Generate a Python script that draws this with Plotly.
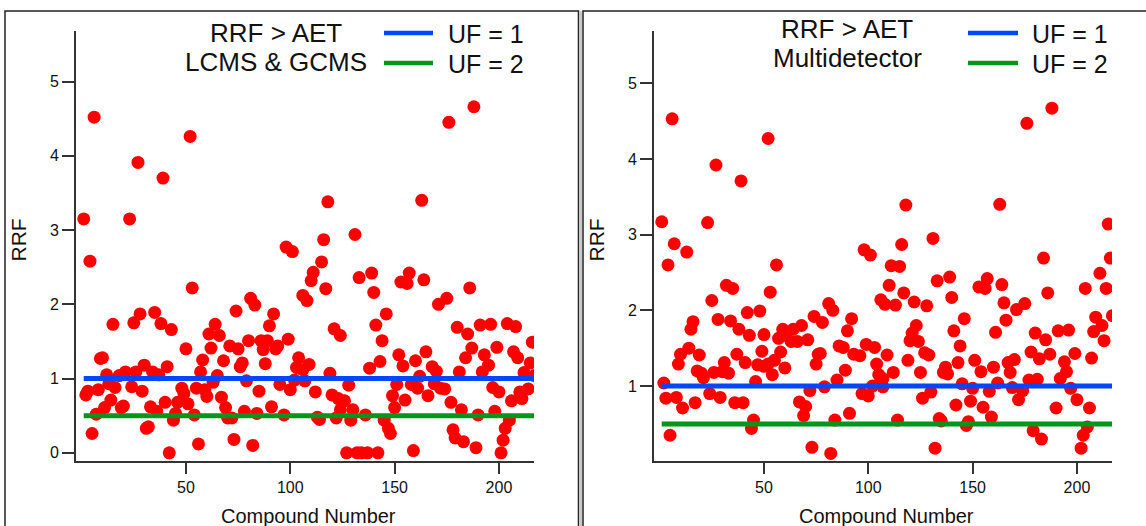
import plotly.graph_objects as go

W, H = 1146, 526

# ---------------- data ----------------
lc_x = [6, 52, 27, 39, 1, 23, 98, 101, 4, 188, 176, 118, 163, 131, 116, 115,
        53, 106, 108, 81, 83, 74, 35, 28, 25, 15, 38, 43, 92, 90, 64, 61, 66, 99, 80, 86, 89, 87, 93, 94,
        71, 75, 62, 50, 104, 68, 88, 58, 77, 76, 57, 103, 106, 9, 10, 12, 18, 21, 26, 30, 34, 37, 41, 65,
        63, 79, 102, 13, 16, 3, 2, 8, 24, 29, 48, 49, 55, 59, 60, 67, 85, 95, 100, 14, 11, 19, 20, 7, 33,
        36, 40, 46, 51, 45, 44, 54, 69, 70, 72, 78, 84, 91, 97, 5, 31, 32, 42, 56, 73, 82,
        111, 110, 117, 133, 139, 140, 153, 156, 157, 164, 186, 171, 175, 146, 141, 121, 124, 144, 180, 185,
        191, 196, 204, 208, 216, 109, 107, 119, 128, 112, 138, 143, 152, 154, 160, 162, 165, 168, 170, 151,
        149, 158, 161, 169, 172, 174, 166, 155, 150, 181, 184, 187, 193, 195, 192, 199, 207, 209, 215, 212,
        217, 197, 200, 206, 210, 211, 214, 177, 182, 190, 198, 205, 203, 202, 201, 120, 123, 126, 124, 130,
        129, 122, 113, 114, 136, 145, 147, 148, 127, 132, 134, 137, 142, 159, 178, 179, 183, 189]
lc_y = [4.52, 4.26, 3.91, 3.70, 3.15, 3.15, 2.77, 2.71, 2.58, 4.66, 4.45, 3.38, 3.40, 2.94, 2.87, 2.57,
        2.22, 2.12, 2.05, 2.08, 1.99, 1.91, 1.89, 1.87, 1.75, 1.73, 1.74, 1.66, 1.87, 1.71, 1.73, 1.60, 1.58, 1.53, 1.51, 1.51, 1.51, 1.39, 1.40, 1.44,
        1.44, 1.40, 1.41, 1.40, 1.28, 1.24, 1.20, 1.25, 1.21, 1.16, 1.09, 1.15, 1.12, 1.27, 1.28, 1.05, 1.04, 1.09, 1.09, 1.18, 1.09, 1.05, 1.16, 1.04,
        0.95, 0.97, 0.98, 0.93, 0.88, 0.83, 0.78, 0.85, 0.89, 0.83, 0.87, 0.80, 0.87, 0.85, 0.76, 0.75, 0.83, 0.92, 0.85, 0.71, 0.61, 0.61, 0.63, 0.52, 0.62,
        0.56, 0.68, 0.68, 0.66, 0.53, 0.44, 0.51, 0.61, 0.47, 0.47, 0.56, 0.53, 0.62, 0.51, 0.26, 0.33, 0.35, 0.0, 0.12, 0.18, 0.10,
        2.43, 2.32, 2.21, 2.36, 2.42, 2.16, 2.30, 2.28, 2.42, 2.33, 2.22, 2.00, 2.08, 1.87, 1.72, 1.67, 1.58, 1.51, 1.69, 1.60,
        1.72, 1.73, 1.74, 1.70, 1.49, 1.19, 0.97, 1.07, 0.91, 0.82, 1.14, 1.23, 1.32, 1.17, 1.24, 1.03, 1.36, 1.16, 1.10, 0.92,
        0.77, 0.92, 0.87, 0.93, 0.87, 0.86, 0.77, 0.71, 0.61, 1.09, 1.28, 1.41, 1.32, 1.18, 1.09, 1.42, 1.36, 1.28, 1.21, 1.08,
        1.04, 0.88, 0.82, 0.70, 0.82, 0.73, 0.86, 0.68, 0.58, 0.51, 0.56, 0.44, 0.33, 0.17, 0.0, 0.78, 0.73, 0.70, 0.58, 0.58,
        0.44, 0.47, 0.48, 0.45, 0.51, 0.44, 0.33, 0.26, 0.0, 0.0, 0.0, 0.0, 0.0, 0.03, 0.31, 0.20, 0.15, 0.07]

md_x = [6, 52, 27, 39, 1, 23, 7, 13, 4, 56, 98, 101, 188, 176, 118, 163, 215, 131, 116, 184, 216, 111, 115,
        32, 35, 53, 25, 106, 108, 42, 48, 28, 34, 16, 15, 38, 43, 50, 81, 83, 74, 78, 92, 90, 68, 64, 59, 60,
        63, 57, 66, 71, 99, 103, 86, 88, 93, 96, 104, 105, 107, 109, 112, 107, 76, 77, 75, 58, 55, 52, 49, 47,
        50, 54, 60, 89, 85, 79, 72, 46, 37, 41, 31, 33, 30, 26, 18, 21, 20, 19, 14, 10, 9, 2, 3, 8, 11, 17, 24,
        29, 36, 40, 45, 44, 5, 67, 70, 69, 91, 84, 97, 100, 102, 106, 73, 82,
        211, 110, 117, 133, 139, 140, 153, 156, 157, 164, 186, 204, 214, 113, 122, 128, 165, 166, 171, 175,
        146, 141, 161, 123, 121, 120, 124, 217, 209, 212, 208, 213, 144, 180, 185, 191, 196, 119, 127, 129,
        125, 137, 136, 138, 143, 151, 154, 160, 167, 170, 168, 178, 182, 187, 199, 207, 194, 195, 192, 177,
        181, 145, 150, 158, 162, 169, 172, 174, 197, 200, 206, 126, 130, 142, 149, 155, 159, 190, 114, 134,
        135, 147, 148, 179, 183, 205, 203, 202, 132]
md_y = [4.53, 4.27, 3.92, 3.71, 3.17, 3.16, 2.88, 2.77, 2.60, 2.60, 2.80, 2.73, 4.67, 4.47, 3.39, 3.40, 3.14, 2.95, 2.87, 2.69, 2.69, 2.59, 2.58,
        2.33, 2.29, 2.24, 2.13, 2.14, 2.08, 1.97, 1.99, 1.88, 1.86, 1.85, 1.75, 1.75, 1.67, 1.68, 2.09, 2.00, 1.92, 1.84, 1.89, 1.73, 1.80, 1.75, 1.75, 1.67,
        1.59, 1.63, 1.59, 1.61, 1.55, 1.51, 1.53, 1.51, 1.42, 1.40, 1.29, 1.15, 1.10, 1.41, 1.18, 0.99, 1.42, 1.43, 1.29, 1.45, 1.34, 1.29, 1.46, 1.28,
        1.26, 1.15, 1.24, 1.21, 1.08, 0.99, 0.94, 1.06, 1.42, 1.31, 1.31, 1.17, 1.19, 1.18, 1.20, 1.11, 1.17, 1.41, 1.50, 1.42, 1.29, 1.04, 0.84, 0.85, 0.71, 0.78, 0.90,
        0.85, 0.78, 0.78, 0.55, 0.44, 0.35, 0.79, 0.73, 0.61, 0.64, 0.55, 0.90, 0.87, 1.00, 1.04, 0.19, 0.11,
        2.49, 2.33, 2.23, 2.39, 2.44, 2.17, 2.31, 2.29, 2.42, 2.34, 2.23, 2.29, 2.29, 2.07, 2.11, 2.06, 2.10, 1.87, 2.01, 2.09,
        1.89, 1.73, 1.71, 1.80, 1.70, 1.60, 1.59, 1.93, 1.91, 1.80, 1.72, 1.60, 1.53, 1.70, 1.61, 1.73, 1.74, 1.34, 1.44, 1.41,
        1.18, 1.25, 1.18, 1.16, 1.31, 1.34, 1.19, 1.25, 1.31, 1.35, 1.18, 1.45, 1.36, 1.42, 1.43, 1.37, 1.32, 1.19, 1.10, 1.08,
        1.09, 1.03, 0.97, 0.93, 1.04, 0.98, 0.82, 0.94, 0.97, 0.82, 0.71, 0.84, 0.92, 0.75, 0.80, 0.72, 0.59, 0.71, 0.55, 0.57,
        0.54, 0.48, 0.53, 0.41, 0.30, 0.46, 0.35, 0.18, 0.18]

uf_x = [1, 217]
uf1_y = [1, 1]
uf2_y = [0.5, 0.5]

panel_titles = [["RRF > AET", "LCMS & GCMS"], ["RRF > AET", "Multidetector"]]
legend_labels = ["UF = 1", "UF = 2"]
x_ticks = [50, 100, 150, 200]

# ---------------- styling ----------------
FONT = "Liberation Sans, Arial, sans-serif"
RED = "#FF0000"
BLUE = "#0046FF"
GREEN = "#00961E"
AX = "#333333"


def px(x):
    return x / W


def py(y):
    return 1 - y / H


fig = go.Figure()

panels = [
    dict(x=lc_x, y=lc_y, xa="x", ya="y", dom=(76, 534), yr=[-0.11, 5.68], yt=[0, 1, 2, 3, 4, 5]),
    dict(x=md_x, y=md_y, xa="x2", ya="y2", dom=(654, 1112), yr=[0.01, 5.69], yt=[1, 2, 3, 4, 5]),
]

for i, p in enumerate(panels):
    fig.add_trace(go.Scatter(x=p["x"], y=p["y"], mode="markers", xaxis=p["xa"], yaxis=p["ya"],
                             marker=dict(color=RED, size=13, line=dict(width=0)), showlegend=False))
    fig.add_trace(go.Scatter(x=uf_x, y=uf1_y, mode="lines", xaxis=p["xa"], yaxis=p["ya"],
                             line=dict(color=BLUE, width=5), showlegend=False))
    fig.add_trace(go.Scatter(x=uf_x, y=uf2_y, mode="lines", xaxis=p["xa"], yaxis=p["ya"],
                             line=dict(color=GREEN, width=5), showlegend=False))
    sfx = "" if i == 0 else "2"
    xa = dict(domain=[px(p["dom"][0]), px(p["dom"][1])], range=[-2.7, 216.8],
              tickvals=x_ticks, ticks="outside", ticklen=11, tickwidth=1.5, tickcolor=AX,
              showline=True, linecolor=AX, linewidth=2, showgrid=False, zeroline=False,
              tickfont=dict(family=FONT, size=16, color="#111"), anchor="y" + sfx)
    ya = dict(domain=[py(461), py(31)], range=p["yr"], tickvals=p["yt"], ticks="outside",
              ticklen=12, tickwidth=1.5, tickcolor=AX, showline=True, linecolor=AX, linewidth=2,
              showgrid=False, zeroline=False, tickfont=dict(family=FONT, size=16, color="#111"),
              anchor="x" + sfx)
    fig.layout["xaxis" + sfx] = xa
    fig.layout["yaxis" + sfx] = ya

shapes = []
# panel frames
shapes.append(dict(type="rect", xref="paper", yref="paper", x0=px(5), x1=px(578.5), y0=py(540), y1=py(11),
                   line=dict(color="#222", width=1.5), fillcolor="rgba(0,0,0,0)", layer="below"))
shapes.append(dict(type="rect", xref="paper", yref="paper", x0=px(579.5), x1=px(582), y0=py(540), y1=py(11.5),
                   line=dict(width=0), fillcolor="#C8C8C8", layer="below"))
shapes.append(dict(type="rect", xref="paper", yref="paper", x0=px(583), x1=px(1150), y0=py(540), y1=py(11),
                   line=dict(color="#222", width=1.5), fillcolor="rgba(0,0,0,0)", layer="below"))

annotations = []
legend_geo = [(384, 433, 446, 33), (968, 1018, 1030, 33)]
title_geo = [(276, 33, 62), (847, 29, 58)]
for i in range(2):
    x0, x1, tx, ly = legend_geo[i]
    for j, col in enumerate([BLUE, GREEN]):
        yy = ly + 30 * j
        shapes.append(dict(type="line", xref="paper", yref="paper", x0=px(x0), x1=px(x1),
                           y0=py(yy), y1=py(yy), line=dict(color=col, width=4.5)))
        annotations.append(dict(text=legend_labels[j], xref="paper", yref="paper", x=px(tx), y=py(yy + 1),
                                xanchor="left", yanchor="middle", showarrow=False,
                                font=dict(family=FONT, size=25, color="#111")))
    cx, y1, y2 = title_geo[i]
    for t, yy in zip(panel_titles[i], [y1, y2]):
        annotations.append(dict(text=t, xref="paper", yref="paper", x=px(cx), y=py(yy),
                                xanchor="center", yanchor="middle", showarrow=False,
                                font=dict(family=FONT, size=26, color="#111")))
    # axis titles
    off = 0 if i == 0 else 578
    annotations.append(dict(text="RRF", xref="paper", yref="paper", x=px(17.5 + off), y=py(240),
                            xanchor="center", yanchor="middle", textangle=-90, showarrow=False,
                            font=dict(family=FONT, size=21, color="#111")))
    annotations.append(dict(text="Compound Number", xref="paper", yref="paper", x=px(308.5 + off), y=py(516),
                            xanchor="center", yanchor="middle", showarrow=False,
                            font=dict(family=FONT, size=20, color="#111")))

fig.update_layout(width=W, height=H, margin=dict(l=0, r=0, t=0, b=0),
                  paper_bgcolor="white", plot_bgcolor="white",
                  shapes=shapes, annotations=annotations, showlegend=False)

fig.write_html("out.html")
